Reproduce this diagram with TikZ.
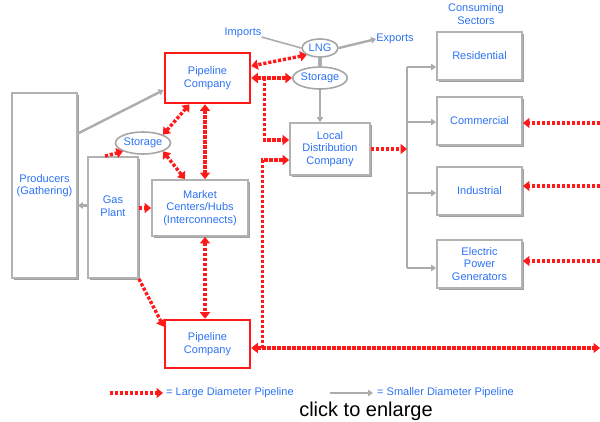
\documentclass[tikz,border=0pt]{standalone}
\usepackage{fontspec}
\setmainfont{Liberation Sans}
\usetikzlibrary{arrows.meta,shapes.geometric,shadows,calc}
\definecolor{lbl}{RGB}{45,115,245}
\definecolor{pipered}{RGB}{255,25,25}
\begin{document}
\begin{tikzpicture}[x=1pt,y=-1pt,
  every node/.style={font=\fontsize{11}{12.5}\selectfont, text=lbl, align=center, inner sep=0pt},
  graybox/.style={draw=gray!60, line width=1.8pt, fill=white,
    drop shadow={shadow xshift=2pt, shadow yshift=-2pt, fill=gray!75, opacity=1}},
  redbox/.style={draw=pipered, line width=2.6pt, fill=white},
  ell/.style={ellipse, draw=gray!70, line width=1.6pt, fill=white},
  redpipe/.style={draw=pipered, line width=3.4pt, dash pattern=on 3.2pt off 1.8pt},
  redarrow/.style={redpipe, -{Triangle[length=6.5pt,width=10pt]}},
  redboth/.style={redpipe, {Triangle[length=6.5pt,width=10pt]}-{Triangle[length=6.5pt,width=10pt]}},
  graypipe/.style={draw=gray!65, line width=2.4pt},
  grayarrow/.style={graypipe, -{Triangle[length=5pt,width=6.5pt]}}
]
\useasboundingbox (0,0) rectangle (600,421);

% nodes
\node[graybox, minimum width=65pt, minimum height=185pt] (prod) at (44.5,185.5) {Producers\\(Gathering)};
\node[graybox, minimum width=50pt, minimum height=121pt] (plant) at (113,217.5) {};
\node (plantlbl) at (113,206) {Gas\\Plant};
\node[ell, minimum width=55pt, minimum height=22pt] (stL) at (143,143) {Storage};
\node[redbox, minimum width=85pt, minimum height=50pt] (pipeT) at (207.5,78) {Pipeline\\Company};
\node[graybox, minimum width=96pt, minimum height=56pt] (hub) at (200,208) {Market\\Centers/Hubs\\(Interconnects)};
\node[redbox, minimum width=85pt, minimum height=48pt] (pipeB) at (207.5,344) {Pipeline\\Company};
\node[ell, minimum width=36pt, minimum height=18pt] (lng) at (320,48) {LNG};
\node[ell, minimum width=50pt, minimum height=22pt] (stR) at (320,78) {Storage};
\node (imp) at (243,33) {Imports};
\node (exp) at (395,39) {Exports};
\node[graybox, minimum width=80pt, minimum height=52pt] (ldc) at (330,149) {Local\\Distribution\\Company};
\node (cons) at (476,14) {Consuming\\Sectors};
\node[graybox, minimum width=85pt, minimum height=48pt] (res) at (479.5,56) {Residential};
\node[graybox, minimum width=85pt, minimum height=48pt] (com) at (479.5,121) {Commercial};
\node[graybox, minimum width=85pt, minimum height=48pt] (ind) at (479.5,191) {Industrial};
\node[graybox, minimum width=85pt, minimum height=48pt] (elec) at (479.5,264) {Electric\\Power\\Generators};

% coordinates for free ends
\coordinate (busT) at (407,67);
\coordinate (b2) at (407,122);
\coordinate (b3) at (407,193);
\coordinate (busB) at (407,268);
\coordinate (r1) at (600,123);
\coordinate (r2) at (600,186);
\coordinate (r3) at (600,261);
\coordinate (r4) at (600,348);

% gray connectors
\draw[grayarrow] ([yshift=52pt]prod.east) -- ([yshift=-12pt]pipeT.west);
\draw[grayarrow] ([yshift=12pt]plant.west) -- ([yshift=12pt]plant.west -| prod.east);
\draw[graypipe, line width=1.6pt] ([yshift=-4pt]imp.east) -- (lng.west);
\draw[grayarrow] (lng.east) -- (exp.west);
\draw[draw=gray!65, line width=3.5pt] (lng.south) -- (stR.north);
\draw[grayarrow] (stR.south) -- (stR.south |- ldc.north);
\draw[graypipe] (busT) -- (busB);
\draw[grayarrow] (busT) -- (busT -| res.west);
\draw[grayarrow] (b2) -- (b2 -| com.west);
\draw[grayarrow] (b3) -- (b3 -| ind.west);
\draw[grayarrow] (busB) -- (busB -| elec.west);

% red connectors
\draw[redarrow] (hub.west -| plant.east) -- (hub.west);
\draw[redarrow] ([xshift=-8pt]plant.north) -- (stL.south west);
\draw[redboth] (stL.north east) -- ([xshift=-18pt]pipeT.south);
\draw[redboth] (stL.south east) -- ([xshift=-15pt]hub.north);
\draw[redboth] ([xshift=-2.5pt]pipeT.south) -- ([xshift=-2.5pt]pipeT.south |- hub.north);
\draw[redboth] ([xshift=-2.5pt]pipeB.north |- hub.south) -- ([xshift=-2.5pt]pipeB.north);
\draw[redarrow] (plant.south east) -- ([yshift=-8pt]pipeB.north west);
\draw[redboth] (lng.south west) -- ([yshift=12pt]pipeT.east);
\draw[redboth] (pipeT.east) -- (stR.west);
\draw[redarrow] (pipeT.east) ++(13,0) |- ([yshift=9pt]ldc.west);
\draw[redboth] (r4 -| pipeB.east) -- (r4);
\draw[redarrow] ($(r4 -| pipeB.east)+(11,0)$) |- ([yshift=-11pt]ldc.west);
\draw[redarrow] (ldc.east) -- (ldc.east -| busT);
\draw[redarrow] (r1) -- (r1 -| com.east);
\draw[redarrow] (r2) -- (r2 -| ind.east);
\draw[redarrow] (r3) -- (r3 -| elec.east);

% legend
\coordinate (lgA) at (110,393);
\coordinate (lgB) at (163,393);
\coordinate (lgC) at (330,393);
\coordinate (lgD) at (373,393);
\draw[redarrow] (lgA) -- (lgB);
\node[anchor=west] (lgt1) at (166,393) {= Large Diameter Pipeline};
\draw[grayarrow] (lgC) -- (lgD);
\node[anchor=west] (lgt2) at (377,393) {= Smaller Diameter Pipeline};

\node[text=black, font=\fontsize{20}{24}\selectfont] (click) at (366,411) {click to enlarge};
\end{tikzpicture}
\end{document}
